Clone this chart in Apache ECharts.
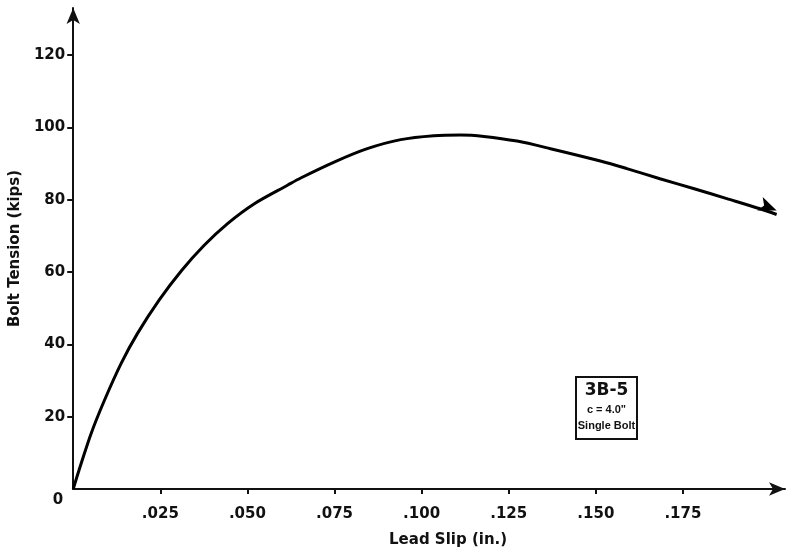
<!DOCTYPE html>
<html>
<head>
<meta charset="utf-8">
<script src="https://cdn.jsdelivr.net/npm/echarts@6/dist/echarts.min.js"></script>
<style>html,body{margin:0;padding:0;background:#fff}#c{width:786px;height:556px}</style>
</head>
<body>
<div id="c"></div>
<script>
// Lead slip (in.)
var slip = [0, 0.0023, 0.0052, 0.0090, 0.0138, 0.0185, 0.0247, 0.0310, 0.0376, 0.0443, 0.0520, 0.0615, 0.0653, 0.0749, 0.0844, 0.0940, 0.1035, 0.1112, 0.1179, 0.1274, 0.1370, 0.1513, 0.1589, 0.1684, 0.1780, 0.1876, 0.1971, 0.2019];
// Bolt tension (kips)
var tension = [0, 7.1, 15.5, 24.6, 34.8, 43.1, 52.3, 60.3, 67.4, 73.4, 78.9, 84.0, 86.0, 90.4, 94.1, 96.6, 97.7, 97.9, 97.5, 96.2, 94.1, 90.7, 88.6, 85.8, 83.1, 80.3, 77.5, 75.9];
var xTickValues = [0.025, 0.05, 0.075, 0.1, 0.125, 0.15, 0.175];
var xTickLabels = ['.025', '.050', '.075', '.100', '.125', '.150', '.175'];
var yTickValues = [0, 20, 40, 60, 80, 100, 120];
var yTickLabels = ['0', '20', '40', '60', '80', '100', '120'];
var boxLines = ['3B-5', 'c = 4.0"', 'Single Bolt'];

var FONT = 'DejaVu Sans';
var data = slip.map(function (x, i) { return [x, tension[i]]; });
var last = data.length - 1;
data[last] = { value: data[last], symbol: 'arrow', symbolSize: [11, 18], symbolRotate: -112, symbolOffset: [0, -4] };

var chart = echarts.init(document.getElementById('c'), null, { renderer: 'canvas' });
chart.setOption({
  animation: false,
  backgroundColor: '#fff',
  grid: { left: 72, right: 1, top: 8, bottom: 67, containLabel: false },
  xAxis: {
    type: 'value', min: 0, max: 0.2043,
    name: 'Lead Slip (in.)', nameLocation: 'middle', nameGap: 44,
    nameTextStyle: { fontFamily: FONT, fontSize: 15, fontWeight: 'bold', color: '#111', padding: [0, 0, 0, 38] },
    axisLine: { show: true, onZero: false, symbol: ['none', 'arrow'], symbolSize: [10, 16], lineStyle: { color: '#111', width: 2 } },
    axisTick: { show: true, inside: false, length: 5, customValues: xTickValues, lineStyle: { color: '#111', width: 2 } },
    axisLabel: { customValues: xTickValues, margin: 18, fontFamily: FONT, fontSize: 15, fontWeight: 'bold', color: '#111',
      formatter: function (v) { var i = xTickValues.findIndex(function (t) { return Math.abs(t - v) < 1e-9; }); return i >= 0 ? xTickLabels[i] : ''; } },
    splitLine: { show: false }
  },
  yAxis: {
    type: 'value', min: 0, max: 133,
    name: 'Bolt Tension (kips)', nameLocation: 'middle', nameGap: 50,
    nameTextStyle: { fontFamily: FONT, fontSize: 15, fontWeight: 'bold', color: '#111' },
    axisLine: { show: true, onZero: false, symbol: ['none', 'arrow'], symbolSize: [10, 16], lineStyle: { color: '#111', width: 2 } },
    axisTick: { show: true, inside: false, length: 6, customValues: yTickValues.slice(1), lineStyle: { color: '#111', width: 2 } },
    axisLabel: { customValues: yTickValues, margin: 8, fontFamily: FONT, fontSize: 15, fontWeight: 'bold', color: '#111',
      formatter: function (v) { var i = yTickValues.indexOf(v); if (i < 0) return ''; return v === 0 ? '{z|' + yTickLabels[i] + '}' : yTickLabels[i]; },
      rich: { z: { fontFamily: FONT, fontSize: 15, fontWeight: 'bold', color: '#111', padding: [22, 2, 0, 0] } } },
    splitLine: { show: false }
  },
  series: [{
    type: 'line', data: data, smooth: 0.3, showSymbol: true, symbol: 'none',
    lineStyle: { color: '#000', width: 3 }, itemStyle: { color: '#000' }
  }],
  graphic: [{
    type: 'group', left: 575, top: 376,
    children: [
      { type: 'rect', shape: { x: 0, y: 0, width: 61, height: 62 }, style: { fill: '#fff', stroke: '#111', lineWidth: 2 } },
      { type: 'text', x: 30.5, y: 5, style: { text: boxLines[0], fontFamily: FONT, fontSize: 17, fontWeight: 'bold', fill: '#111', align: 'center', verticalAlign: 'top' } },
      { type: 'text', x: 30.5, y: 27, style: { text: boxLines[1], fontFamily: 'Liberation Sans', fontSize: 11, fontWeight: 'bold', fill: '#111', align: 'center', verticalAlign: 'top' } },
      { type: 'text', x: 30.5, y: 43, style: { text: boxLines[2], fontFamily: 'Liberation Sans', fontSize: 11, fontWeight: 'bold', fill: '#111', align: 'center', verticalAlign: 'top' } }
    ]
  }]
});
</script>
</body>
</html>
